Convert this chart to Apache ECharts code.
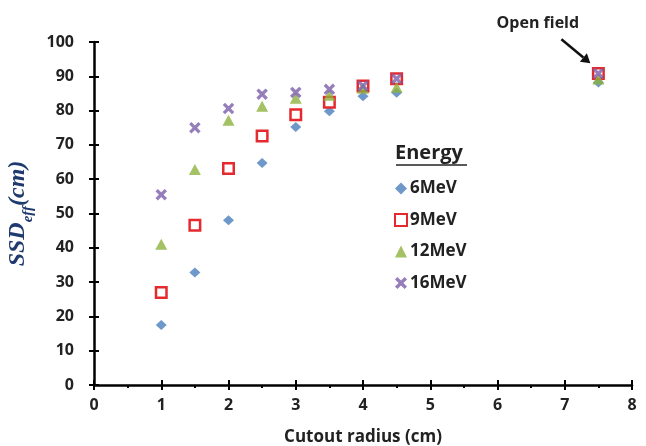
<!DOCTYPE html>
<html><head><meta charset="utf-8">
<script src="https://cdn.jsdelivr.net/npm/echarts@6/dist/echarts.min.js"></script>
<style>html,body{margin:0;padding:0;background:#fff}#c{width:646px;height:446px}</style>
</head><body><div id="c"></div>
<script>
const radius = [1, 1.5, 2, 2.5, 3, 3.5, 4, 4.5, 7.5];
const mev6  = [17.5, 32.8, 48.0, 64.7, 75.2, 79.8, 84.2, 85.2, 88.2];
const mev9  = [27.0, 46.6, 63.1, 72.6, 78.8, 82.4, 87.2, 89.3, 90.8];
const mev12 = [41.0, 62.8, 77.2, 81.3, 83.6, 84.5, 86.5, 86.8, 89.2];
const mev16 = [55.5, 75.0, 80.6, 84.8, 85.3, 86.2, 87.2, 89.3, 90.8];
const seriesNames = ['6MeV', '9MeV', '12MeV', '16MeV'];
const xTicks = [0,1,2,3,4,5,6,7,8];
const yTicks = [0,10,20,30,40,50,60,70,80,90,100];
const legendTitle = 'Energy';
const annotationText = 'Open field';

const FONT = 'Open Sans';
const xPath = 'path://M0,2 L2,0 L5,3 L8,0 L10,2 L7,5 L10,8 L8,10 L5,7 L2,10 L0,8 L3,5 Z';
const pairs = v => radius.map((r, i) => [r, v[i]]);

const chart = echarts.init(document.getElementById('c'), null, {renderer: 'canvas'});
const axisBase = {
  axisLine: {show: true, onZero: false, lineStyle: {color: '#000', width: 2.5}},
  splitLine: {show: false}
};
const option = {
  animation: false,
  grid: {left: 94, right: 14, top: 42, bottom: 61, containLabel: false, outerBoundsMode: 'none'},
  xAxis: [
    Object.assign({}, axisBase, {
      type: 'value', min: 0, max: 8, interval: 1,
      name: 'Cutout radius (cm)', nameLocation: 'middle', nameGap: 44,
      nameTextStyle: {fontFamily: FONT, fontWeight: 'bold', fontSize: 17, color: '#222'},
      axisTick: {show: true, length: 5, lineStyle: {color: '#000', width: 2}},
      minorTick: {show: true, splitNumber: 2, length: 3, lineStyle: {color: '#000', width: 2}},
      axisLabel: {margin: 12, fontFamily: FONT, fontWeight: 'bold', fontSize: 16, color: '#222',
        formatter: v => xTicks.includes(v) ? String(v) : ''}
    }),
    Object.assign({}, axisBase, {
      type: 'value', min: 0, max: 8, interval: 1, position: 'bottom',
      axisLine: {show: false},
      axisTick: {show: true, inside: true, length: 5, lineStyle: {color: '#000', width: 2}},
      axisLabel: {show: false}
    })
  ],
  yAxis: [
    Object.assign({}, axisBase, {
      type: 'value', min: 0, max: 100, interval: 10,
      name: '{a|SSD}{b|eff}{a|(cm)}', nameLocation: 'middle', nameGap: 38, nameRotate: 90,
      nameTextStyle: {
        rich: {
          a: {fontFamily: 'Liberation Serif', fontStyle: 'italic', fontWeight: 'bold', fontSize: 24, color: '#1f3a6e', lineHeight: 26, verticalAlign: 'bottom'},
          b: {fontFamily: 'Liberation Serif', fontStyle: 'italic', fontWeight: 'bold', fontSize: 15, color: '#1f3a6e', lineHeight: 18, verticalAlign: 'bottom', padding: [0,0,-6,0]}
        }
      },
      axisTick: {show: true, length: 5, lineStyle: {color: '#000', width: 2}},
      axisLabel: {margin: 20, fontFamily: FONT, fontWeight: 'bold', fontSize: 16, color: '#222',
        formatter: v => yTicks.includes(v) ? String(v) : ''}
    }),
    Object.assign({}, axisBase, {
      type: 'value', min: 0, max: 100, interval: 10, position: 'left',
      axisLine: {show: false},
      axisTick: {show: true, inside: true, length: 5, lineStyle: {color: '#000', width: 2}},
      axisLabel: {show: false}
    })
  ],
  legend: {
    orient: 'vertical', left: 389, top: 175,
    itemWidth: 12, itemHeight: 12, itemGap: 14.5,
    data: seriesNames,
    textStyle: {fontFamily: FONT, fontWeight: 'bold', fontSize: 17, color: '#222', lineHeight: 17, padding: [0,0,0,-2]}
  },
  series: [
    {name: seriesNames[0], type: 'scatter', data: pairs(mev6), symbol: 'diamond', symbolSize: [11, 10], itemStyle: {color: '#4a7ebb'}, z: 2},
    {name: seriesNames[1], type: 'scatter', data: pairs(mev9), symbol: 'rect', symbolSize: 10.5, itemStyle: {color: '#ffffff', borderColor: '#e52a2f', borderWidth: 2.5, opacity: 1}, z: 3},
    {name: seriesNames[2], type: 'scatter', data: pairs(mev12), symbol: 'triangle', symbolSize: [12, 11], itemStyle: {color: '#8db23c'}, z: 4},
    {name: seriesNames[3], type: 'scatter', data: pairs(mev16), symbol: xPath, symbolSize: 11.5, itemStyle: {color: '#7b5ea9'}, z: 5}
  ]
};
chart.setOption(option);

// annotation positioned through the chart's scales
const p1 = chart.convertToPixel({gridIndex: 0}, [6.95, 100.8]);
const p2 = chart.convertToPixel({gridIndex: 0}, [7.38, 93.8]);
const pt = chart.convertToPixel({gridIndex: 0}, [6.6, 105.5]);
const ang = Math.atan2(p2[1] - p1[1], p2[0] - p1[0]);
const ah = 9, aw = 5.5;
const bx = p2[0] - ah * Math.cos(ang), by = p2[1] - ah * Math.sin(ang);
chart.setOption({
  graphic: [
    {type: 'text', left: 395, top: 143, style: {text: legendTitle, font: 'bold 20px "Open Sans"', fill: '#222'}},
    {type: 'line', shape: {x1: 396, y1: 165, x2: 467, y2: 165}, style: {stroke: '#222', lineWidth: 1.5}},
    {type: 'text', x: pt[0], y: pt[1], style: {text: annotationText, font: 'bold 16px "Open Sans"', fill: '#222', align: 'center', verticalAlign: 'middle'}},
    {type: 'line', shape: {x1: p1[0], y1: p1[1], x2: bx, y2: by}, style: {stroke: '#111', lineWidth: 2.5}},
    {type: 'polygon', shape: {points: [
      [p2[0], p2[1]],
      [bx + aw * Math.sin(ang), by - aw * Math.cos(ang)],
      [bx - aw * Math.sin(ang), by + aw * Math.cos(ang)]
    ]}, style: {fill: '#111'}}
  ]
});
</script></body></html>
